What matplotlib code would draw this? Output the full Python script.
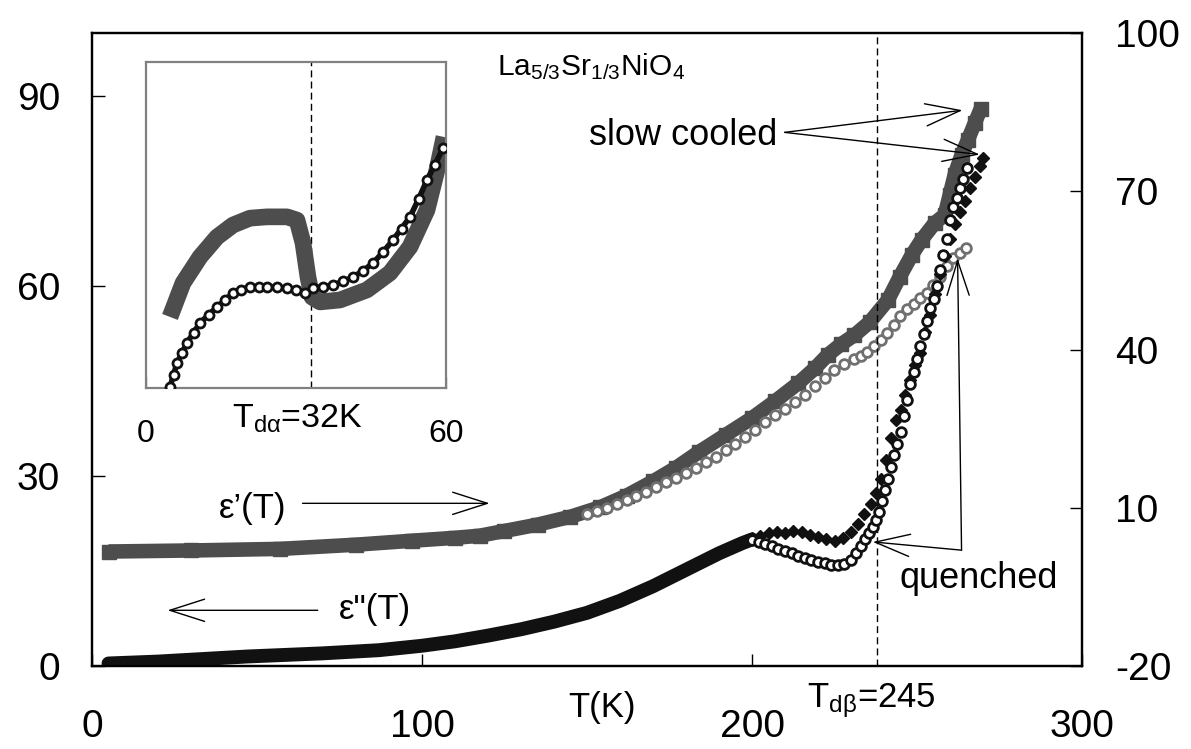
import matplotlib
matplotlib.use('Agg')
import matplotlib.pyplot as plt

plt.rcParams['font.family'] = ['Liberation Sans', 'DejaVu Sans']
plt.rcParams['mathtext.fontset'] = 'custom'
plt.rcParams['mathtext.rm'] = 'Liberation Sans'
plt.rcParams['mathtext.it'] = 'Liberation Sans'
plt.rcParams['mathtext.default'] = 'regular'
plt.rcParams['axes.unicode_minus'] = False

# ---------------- data ----------------
# epsilon' slow cooled (right axis)
eps1_sc_T = [5, 30, 57, 80, 97, 110, 117.5, 125, 135, 145, 154, 162, 170, 177, 184, 192, 200, 207,
             214, 219, 223, 227, 231, 235.7, 241.2, 244.7, 248.4, 251.4, 255.4, 258.4, 259.9, 261.4,
             263.5, 265.4, 267.5, 269.3]
eps1_sc = [1.7, 1.9, 2.2, 3.0, 3.75, 4.3, 4.7, 5.6, 6.8, 8.3, 10.1, 12.3, 15.0, 17.6, 20.6, 23.8, 27.0,
           30.2, 33.6, 36.4, 39.0, 41.0, 42.7, 45.2, 49.4, 53.7, 57.9, 60.8, 64.0, 65.5, 69.3, 73.1,
           76.9, 79.7, 82.9, 85.6]

# epsilon' quenched (right axis)
eps1_q_T = [150, 153, 156, 159, 162, 165, 168, 171, 174, 177, 180, 183, 186, 189, 192, 195, 198, 201,
            204, 207, 210, 213, 216, 219, 222, 225, 228, 231, 233, 235, 237, 239, 241, 243, 245, 247,
            249, 251, 253, 255, 257, 259, 261, 263, 265]
eps1_q = [8.8, 9.4, 10.0, 10.7, 11.4, 12.2, 13.0, 13.9, 14.8, 15.7, 16.6, 17.5, 18.6, 19.7, 20.9, 22.1,
          23.4, 24.7, 26.2, 27.5, 28.7, 30.0, 31.4, 33.0, 34.6, 36.2, 37.2, 38.2, 38.8, 39.6, 40.6, 41.8,
          43.2, 44.6, 46.3, 47.6, 48.6, 49.7, 50.8, 52.3, 53.8, 55.8, 57.3, 58.3, 59.2]

# epsilon'' common low-T part (left axis)
eps2_low_T = [5, 20, 47, 70, 87, 100, 110, 120, 130, 140, 150, 160, 170, 180, 190, 197, 200]
eps2_low = [0.4, 0.7, 1.5, 2.0, 2.5, 3.2, 3.9, 4.8, 5.8, 7.0, 8.4, 10.3, 12.6, 15.2, 17.8, 19.4, 20.0]

# epsilon'' slow cooled (left axis)
eps2_sc_T = [200, 202.5, 205, 207.5, 210, 212.5, 215, 217.5, 220, 222.5, 225, 227.5, 230, 232, 234, 236,
             237.5, 239, 240.5, 242, 243.5, 245, 246.5, 248, 249.5, 251, 252.5, 254, 255.5, 257, 258.5,
             260, 261.5, 263, 264.5, 266, 267.5, 269, 270]
eps2_sc = [20.2, 20.6, 21.0, 21.2, 21.0, 21.3, 21.1, 20.7, 20.4, 20.0, 19.7, 20.2, 21.2, 22.4, 24.0, 25.6,
           27.3, 29.5, 32.5, 36.0, 38.8, 40.5, 42.8, 45.2, 47.5, 49.5, 52.8, 55.5, 58.8, 62.0, 64.8,
           67.5, 69.8, 71.8, 73.5, 75.5, 77.3, 79.0, 80.2]

# epsilon'' quenched (left axis)
eps2_q_T = [200, 202, 204, 206, 208, 210, 212, 214, 216, 218, 220, 222, 224, 226, 228, 230, 231.5, 233,
            234.3, 235.5, 236.6, 237.6, 238.6, 239.5, 240.4, 241.3, 242.2, 243.1, 244, 245, 246, 247,
            248, 249, 250, 251, 252, 253, 254, 255, 256, 257, 258, 259, 260, 261, 262, 263, 264, 265]
eps2_q = [19.9, 19.6, 19.2, 18.9, 18.5, 18.2, 17.8, 17.4, 17.1, 16.8, 16.5, 16.2, 15.9, 15.9, 16.1, 16.8,
          17.8, 19.0, 20.0, 21.0, 22.0, 23.1, 24.4, 26.0, 27.8, 29.6, 31.5, 33.3, 35.0, 37.0, 39.5, 42.0,
          44.5, 46.5, 48.5, 50.5, 52.5, 54.5, 56.5, 58.0, 60.0, 62.5, 65.0, 67.5, 70.5, 72.5, 74.0, 75.5,
          77.0, 78.6]

# inset (arbitrary units)
ins_eps1_T = [4.8, 7.4, 10.8, 14.2, 17.4, 20.8, 24.2, 28.2, 30.2, 31.4, 32.4, 33.2, 34.8, 38.8, 44.2,
              48.8, 52.8, 56.2, 58.2, 59.6]
ins_eps1 = [21.8, 32.2, 40.2, 46.3, 50.0, 52.1, 52.5, 52.5, 51.5, 44.5, 34.0, 27.9, 26.4, 27.0, 30.1,
            35.3, 43.3, 54.6, 66.9, 77.0]
ins_eps2_T = [4.8, 5.5, 6.2, 7.2, 8.2, 9.5, 10.8, 12.5, 14.2, 15.8, 17.4, 19.0, 20.8, 22.5, 24.2, 26.2,
              28.2, 30.0, 31.8, 33.4, 35.4, 37.4, 39.4, 41.4, 43.4, 45.4, 47.4, 49.4, 51.1, 52.8, 54.5,
              56.2, 57.8, 59.4]
ins_eps2 = [0.3, 4.0, 7.7, 10.8, 13.8, 17.0, 19.9, 22.5, 24.8, 27.0, 29.1, 30.2, 31.0, 31.0, 31.0, 30.9,
            30.7, 30.0, 29.1, 30.7, 31.1, 31.6, 32.7, 34.0, 36.0, 38.3, 41.7, 45.4, 48.9, 52.5, 57.9,
            63.8, 68.5, 73.6]

x_ticks = [0, 100, 200, 300]
left_ticks = [0, 30, 60, 90]
right_ticks = [-20, 10, 40, 70, 100]
inset_ticks = [0, 60]
T_dbeta_line = 238
T_dalpha_line = 33

W, H = 1191, 749
fig = plt.figure(figsize=(W / 100, H / 100), dpi=100)

ax = fig.add_axes([92 / W, 1 - 666 / H, 990 / W, 633 / H])
ax2 = ax.twinx()
ax.set_zorder(2)
ax.patch.set_visible(False)
ax2.set_zorder(1)

ax.set_xlim(0, 300)
ax.set_ylim(0, 100)
ax2.set_ylim(-20, 100)
ax.set_xticks(x_ticks)
ax.set_yticks(left_ticks)
ax2.set_yticks(right_ticks)
ax.tick_params(axis='both', direction='in', length=9, width=1, labelsize=28)
ax.tick_params(axis='x', pad=31)
ax.tick_params(axis='y', pad=23)
ax2.tick_params(axis='y', direction='in', length=9, width=1, labelsize=28, pad=24)
for a in (ax, ax2):
    for s in a.spines.values():
        s.set_linewidth(1.6)
        s.set_color('black')

gray = '#4d4d4d'
blk = '#111111'

ax2.plot(eps1_sc_T, eps1_sc, color=gray, lw=10.5, marker='s', ms=10.5,
         solid_capstyle='butt', solid_joinstyle='miter', zorder=2)
ax2.plot(eps1_q_T, eps1_q, ls='none', marker='o', ms=7, mfc='white', mec='#707070',
         mew=2, zorder=3)

ax.plot(eps2_low_T, eps2_low, color=blk, lw=10, solid_capstyle='round', zorder=2)
ax.plot(eps2_sc_T, eps2_sc, ls='none', marker='D', ms=6.5, color=blk, zorder=3)
ax.plot(eps2_q_T, eps2_q, ls='none', marker='o', ms=7, mfc='white', mec=blk, mew=2, zorder=4)

ax.axvline(T_dbeta_line, color='black', lw=1, ls=(0, (5, 3)), zorder=1)

# annotations
arrow = dict(arrowstyle='->, head_length=1.25, head_width=0.4', color='black', lw=1,
             mutation_scale=20, shrinkA=0, shrinkB=0)
ax.text(48.7, 24.9, 'ε’(T)', fontsize=25, ha='center', va='center')
ax.annotate('', xy=(120.5, 25.7), xytext=(63.8, 25.7), arrowprops=arrow)
ax.text(85.7, 9.0, 'ε"(T)', fontsize=25, ha='center', va='center')
ax.annotate('', xy=(22.9, 8.8), xytext=(68.4, 8.8), arrowprops=arrow)

ax.text(179.1, 83.8, 'slow cooled', fontsize=26, ha='center', va='center')
ax.annotate('', xy=(263.8, 87.8), xytext=(209.9, 84.3), arrowprops=arrow)
ax.annotate('', xy=(269.0, 80.8), xytext=(209.9, 84.3), arrowprops=arrow)

ax.text(268.7, 13.9, 'quenched', fontsize=26, ha='center', va='center')
ax.annotate('', xy=(236.6, 19.6), xytext=(263.5, 18.3), arrowprops=arrow)
ax.annotate('', xy=(262.3, 64.4), xytext=(263.5, 18.3), arrowprops=arrow)

ax.text(122.6, 93.3, r'La$_{5/3}$Sr$_{1/3}$NiO$_4$', fontsize=21.5, ha='left', va='baseline')

fig.text(602 / W, 1 - 708 / H, 'T(K)', fontsize=25, ha='center', va='center')
fig.text(807 / W, 1 - 707 / H, r'T$_{dβ}$=245', fontsize=25, ha='left', va='baseline')

# inset
ins = fig.add_axes([146 / W, 1 - 388 / H, 300 / W, 326 / H])
ins.set_zorder(5)
ins.set_xlim(0, 60)
ins.set_ylim(0, 100)
ins.set_xticks(inset_ticks)
ins.set_yticks([])
ins.tick_params(axis='x', direction='in', length=8, width=1, color='#808080',
                labelsize=23, pad=22)
for s in ins.spines.values():
    s.set_color('#808080')
    s.set_linewidth(1.6)
ins.plot(ins_eps1_T, ins_eps1, color=gray, lw=12, solid_capstyle='butt', zorder=2)
ins.plot(ins_eps2_T, ins_eps2, color=blk, lw=4, zorder=3)
ins.plot(ins_eps2_T, ins_eps2, ls='none', marker='o', ms=6.5, mfc='white', mec=blk, mew=2, zorder=4)
ins.axvline(T_dalpha_line, color='black', lw=1, ls=(0, (5, 3)), zorder=1)
fig.text(297 / W, 1 - 428 / H, r'T$_{dα}$=32K', fontsize=24.5, ha='center', va='baseline')

fig.savefig('out.png', dpi=100)
